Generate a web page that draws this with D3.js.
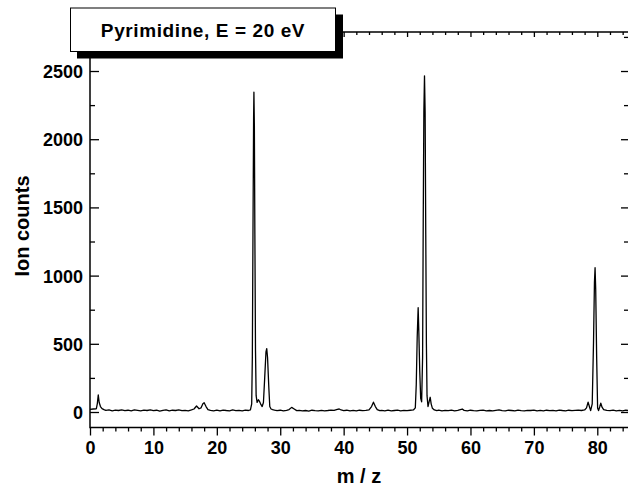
<!DOCTYPE html>
<html>
<head>
<meta charset="utf-8">
<script src="https://cdn.jsdelivr.net/npm/d3@7"></script>
<style>
  body { margin: 0; background: #fff; }
  text { font-family: "Liberation Sans", Arial, sans-serif; font-weight: bold; fill: #000; }
</style>
</head>
<body>
<div id="chart"></div>
<script>
// spectrum: m/z and ion counts
var mz = [
  0, 0.5, 1.0, 1.15, 1.3, 1.45, 1.65, 1.9, 2.2, 2.5, 3.0, 3.5, 4.0, 4.5, 5.0, 5.5, 6.0, 6.5, 7.0, 7.5,
  8.0, 8.5, 9.0, 9.5, 10.0, 10.5, 11.0, 11.5, 12.0, 12.5, 13.0, 13.5, 14.0, 14.5, 15.0, 15.5, 16.0, 16.4, 16.8, 17.2,
  17.5, 17.8, 18.0, 18.3, 18.6, 19.0, 19.5, 20.0, 20.5, 21.0, 21.5, 22.0, 22.5, 23.0, 23.5, 24.0, 24.5, 25.0, 25.3, 25.5,
  25.6, 25.7, 25.8, 25.85, 25.92, 26.0, 26.1, 26.2, 26.35, 26.55, 26.7, 26.9, 27.15, 27.35, 27.55, 27.75, 27.87, 28.0, 28.2, 28.35,
  28.55, 28.8, 29.1, 29.5, 30.0, 30.5, 31.0, 31.4, 31.8, 32.2, 32.6, 33.0, 33.5, 34.0, 34.5, 35.0, 35.5, 36.0, 36.5, 37.0,
  37.5, 38.0, 38.5, 39.0, 39.3, 39.6, 40.0, 40.5, 41.0, 41.5, 42.0, 42.5, 43.0, 43.5, 44.0, 44.4, 44.7, 45.0, 45.3, 45.7,
  46.0, 46.5, 47.0, 47.5, 48.0, 48.5, 49.0, 49.5, 50.0, 50.5, 51.0, 51.3, 51.45, 51.6, 51.75, 51.85, 52.0, 52.15, 52.3, 52.45,
  52.55, 52.65, 52.75, 52.85, 52.95, 53.05, 53.15, 53.3, 53.5, 53.65, 53.8, 54.0, 54.3, 54.7, 55.0, 55.5, 56.0, 56.5, 57.0, 57.5,
  58.0, 58.4, 58.7, 59.0, 59.5, 60.0, 60.5, 61.0, 61.5, 62.0, 62.5, 63.0, 63.5, 64.0, 64.5, 65.0, 65.5, 66.0, 66.5, 67.0,
  67.5, 68.0, 68.5, 69.0, 69.5, 70.0, 70.5, 71.0, 71.5, 72.0, 72.5, 73.0, 73.5, 74.0, 74.5, 75.0, 75.5, 76.0, 76.5, 77.0,
  77.5, 78.0, 78.3, 78.55, 78.75, 78.95, 79.2, 79.4, 79.55, 79.65, 79.75, 79.9, 80.05, 80.2, 80.4, 80.55, 80.75, 81.0, 81.5, 82.0,
  82.5, 83.0, 83.5, 84.0, 84.5, 85.0
];
var counts = [
  20, 22, 24, 60, 125, 70, 40, 25, 18, 12, 15, 9, 14, 11, 16, 10, 13, 8, 15, 12,
  9, 14, 11, 16, 10, 13, 7, 12, 15, 9, 13, 11, 16, 10, 12, 9, 15, 22, 44, 24,
  30, 60, 68, 40, 18, 12, 9, 13, 8, 14, 11, 9, 15, 10, 12, 8, 14, 11, 16, 60,
  400, 1300, 2150, 2345, 2100, 1300, 450, 120, 70, 90, 80, 60, 40, 70, 250, 440, 465, 400, 180, 40,
  22, 18, 14, 10, 13, 8, 12, 18, 34, 22, 10, 12, 8, 11, 7, 13, 10, 8, 12, 9,
  11, 14, 12, 20, 22, 15, 10, 13, 9, 12, 8, 13, 10, 12, 15, 40, 72, 40, 18, 10,
  12, 9, 13, 8, 11, 14, 9, 12, 10, 13, 15, 30, 200, 550, 765, 600, 300, 100, 75, 400,
  1400, 2200, 2465, 2200, 1300, 500, 120, 40, 80, 108, 60, 27, 15, 10, 13, 8, 12, 10, 14, 9,
  12, 18, 22, 12, 9, 13, 10, 8, 12, 14, 9, 11, 8, 12, 15, 10, 8, 13, 11, 9,
  14, 10, 8, 12, 11, 14, 9, 12, 8, 13, 10, 12, 9, 14, 11, 9, 13, 10, 12, 14,
  11, 15, 30, 72, 40, 10, 60, 500, 950, 1058, 900, 400, 30, 10, 40, 65, 35, 18, 12, 10,
  14, 9, 12, 8, 13, 10
];

var xMajor = [0, 10, 20, 30, 40, 50, 60, 70, 80];
var yMajor = [0, 500, 1000, 1500, 2000, 2500];
var titleText = "Pyrimidine, E = 20 eV";
var xLabel = "m / z";
var yLabel = "Ion counts";

var width = 628, height = 487;
var plotLeft = 90, plotRight = 629, plotTop = 32, plotBottom = 427.5;

var svg = d3.select("#chart").append("svg")
  .attr("width", width)
  .attr("height", height);

var x = d3.scaleLinear().domain([0, 85]).range([plotLeft, plotRight]);
var y = d3.scaleLinear().domain([-113.6, 2786]).range([plotBottom, plotTop]);

var xMinor = d3.range(0, 85.01, 2).filter(d => d % 10 !== 0);
var yMinor = d3.range(250, 2786, 500);

// bottom axis, ticks hang down
var gx = svg.append("g").attr("transform", "translate(0," + plotBottom + ")");
gx.call(d3.axisBottom(x).tickValues(xMinor).tickSize(4).tickFormat(""));
var gx2 = svg.append("g").attr("transform", "translate(0," + plotBottom + ")")
  .call(d3.axisBottom(x).tickValues(xMajor).tickSize(8).tickPadding(6).tickFormat(d3.format("d")));
gx2.selectAll("text").style("font-size", "18px");

// top axis, ticks point in
var gt = svg.append("g").attr("transform", "translate(0," + plotTop + ")");
gt.call(d3.axisBottom(x).tickValues(xMinor).tickSize(3).tickFormat(""));
var gt2 = svg.append("g").attr("transform", "translate(0," + plotTop + ")");
gt2.call(d3.axisBottom(x).tickValues(xMajor).tickSize(5).tickFormat(""));

// left axis, ticks point in
var gy = svg.append("g").attr("transform", "translate(" + plotLeft + ",0)");
gy.call(d3.axisRight(y).tickValues(yMinor).tickSize(5).tickFormat(""));
var gy2 = svg.append("g").attr("transform", "translate(" + plotLeft + ",0)")
  .call(d3.axisRight(y).tickValues(yMajor).tickSize(9).tickFormat(""));
gy2.selectAll(".tick").append("text")
  .attr("x", -7).attr("dy", "0.36em")
  .attr("text-anchor", "end")
  .style("font-size", "18px")
  .text(d => d);

// right axis
var gr = svg.append("g").attr("transform", "translate(" + plotRight + ",0)");
gr.call(d3.axisLeft(y).tickValues(yMinor).tickSize(5).tickFormat(""));
var gr2 = svg.append("g").attr("transform", "translate(" + plotRight + ",0)");
gr2.call(d3.axisLeft(y).tickValues(yMajor).tickSize(8).tickFormat(""));

svg.selectAll(".domain").remove();
svg.selectAll(".tick line").attr("stroke", "#000").attr("stroke-width", 1.3);

// frame
svg.append("rect")
  .attr("x", plotLeft).attr("y", plotTop)
  .attr("width", plotRight - plotLeft).attr("height", plotBottom - plotTop)
  .attr("fill", "none").attr("stroke", "#000").attr("stroke-width", 1.5);

// spectrum
var pts = mz.map((d, i) => [d, counts[i]]);
svg.append("path")
  .datum(pts)
  .attr("fill", "none")
  .attr("stroke", "#000")
  .attr("stroke-width", 1.3)
  .attr("stroke-linejoin", "round")
  .attr("d", d3.line().x(d => x(d[0])).y(d => y(d[1])));

// title box with shadow
svg.append("rect")
  .attr("x", 77).attr("y", 14.5).attr("width", 266).attr("height", 44)
  .attr("fill", "#000");
svg.append("rect")
  .attr("x", 70.5).attr("y", 8).attr("width", 265).attr("height", 43.5)
  .attr("fill", "#fff").attr("stroke", "#000").attr("stroke-width", 1);
svg.append("text")
  .attr("x", 203).attr("y", 37)
  .attr("text-anchor", "middle")
  .style("font-size", "19px")
  .style("letter-spacing", "0.6px")
  .text(titleText);

// axis titles
svg.append("text")
  .attr("x", 359).attr("y", 483)
  .attr("text-anchor", "middle")
  .style("font-size", "20px")
  .text(xLabel);
svg.append("text")
  .attr("transform", "translate(29,226) rotate(-90)")
  .attr("text-anchor", "middle")
  .style("font-size", "20px")
  .text(yLabel);
</script>
</body>
</html>
